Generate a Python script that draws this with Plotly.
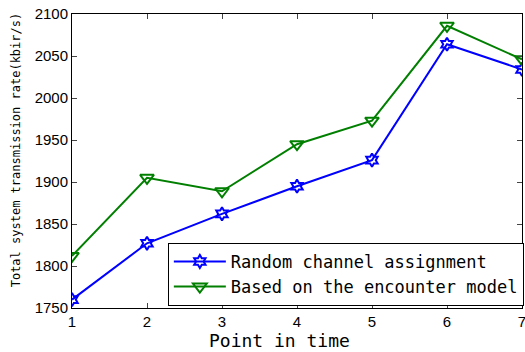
import plotly.graph_objects as go

x_points = [1, 2, 3, 4, 5, 6, 7]
random_assign = [1760, 1827, 1862, 1895, 1926, 2064, 2034]
encounter_model = [1812, 1905, 1889, 1945, 1973, 2086, 2046]
y_ticks = [1750, 1800, 1850, 1900, 1950, 2000, 2050, 2100]

fig = go.Figure()
fig.add_trace(go.Scatter(
    x=x_points, y=random_assign, mode="lines+markers",
    name="Random channel assignment",
    line=dict(color="#0000ff", width=2),
    marker=dict(symbol="hexagram-open", size=10, color="#0000ff", line=dict(width=2, color="#0000ff")),
))
fig.add_trace(go.Scatter(
    x=x_points, y=encounter_model, mode="lines+markers",
    name="Based on the encounter model",
    line=dict(color="#007f00", width=2),
    marker=dict(symbol="triangle-down-open", size=12, color="#007f00", line=dict(width=2, color="#007f00")),
))

fig.update_layout(
    width=525, height=352,
    margin=dict(l=72, r=3, t=14, b=44, autoexpand=False),
    paper_bgcolor="white", plot_bgcolor="white",
    font=dict(family="Liberation Sans", color="black", size=15),
    legend=dict(
        x=0.213, y=0.007, xanchor="left", yanchor="bottom",
        bgcolor="white", bordercolor="black", borderwidth=1,
        font=dict(family="DejaVu Sans Mono", size=17),
        tracegroupgap=0, itemwidth=52,
    ),
    showlegend=True,
    annotations=[
        dict(text="Point in time", xref="paper", yref="paper", x=0.462, y=-0.109,
             xanchor="center", yanchor="middle", showarrow=False,
             font=dict(family="DejaVu Sans Mono", size=18)),
        dict(text="Total system transmission rate(kbir/s)", xref="paper", yref="paper",
             x=-0.124, y=0.537, xanchor="center", yanchor="middle", showarrow=False, textangle=-90,
             font=dict(family="DejaVu Sans Mono", size=12)),
    ],
)
fig.update_xaxes(
    range=[1, 7], tickvals=x_points, ticks="inside", ticklen=5,
    showline=True, linecolor="black", linewidth=1, mirror="ticks",
    showgrid=False, zeroline=False, automargin=False, ticklabeloverflow="allow",
    tickfont=dict(family="Liberation Sans", size=15),
)
fig.update_yaxes(
    range=[1750, 2100], tickvals=y_ticks, ticks="inside", ticklen=5,
    showline=True, linecolor="black", linewidth=1, mirror="ticks",
    showgrid=False, zeroline=False, automargin=False, ticklabeloverflow="allow",
    tickfont=dict(family="Liberation Sans", size=15),
)

fig.write_html("out.html", config={"displayModeBar": False},
               post_script="document.body.style.margin='0';")
